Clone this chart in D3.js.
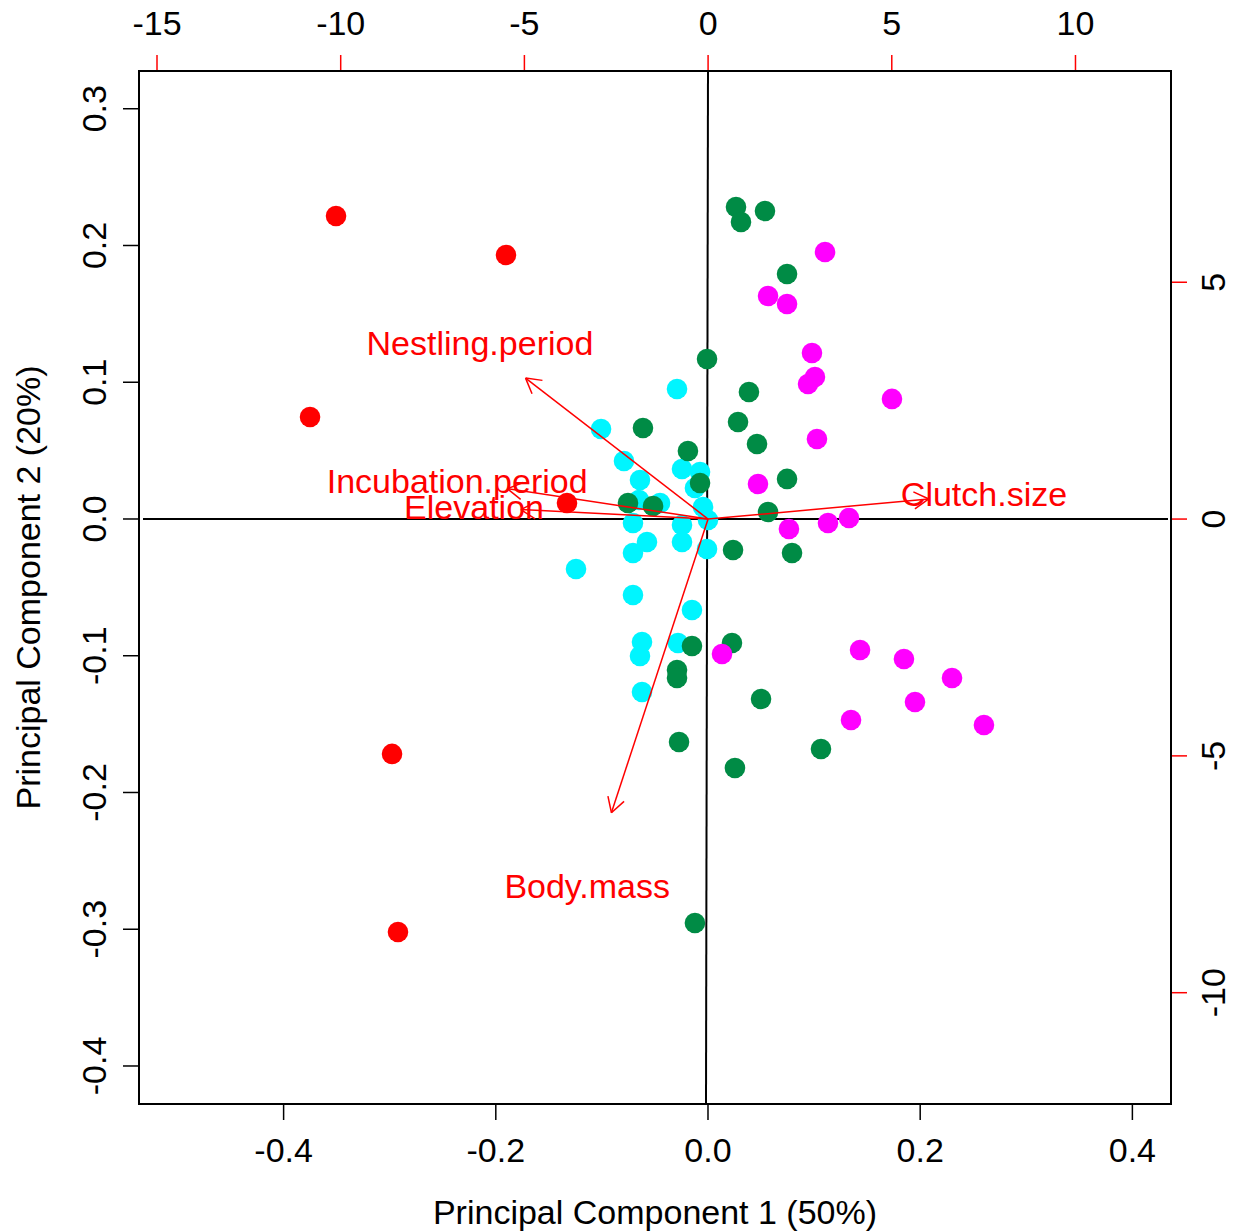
<!DOCTYPE html>
<html><head><meta charset="utf-8">
<script src="https://cdn.jsdelivr.net/npm/d3@7"></script>
<style>body{margin:0;background:#fff}svg{display:block}text{font-family:"Liberation Sans",Arial,Helvetica,sans-serif}</style>
</head><body><svg id="c" width="1236" height="1232"></svg>
<script>
// PC scores by group [PC1, PC2]
const redPts = [[-0.3506,0.2216],[-0.1904,0.1931],[-0.3751,0.0746],[-0.1329,0.0117],[-0.2978,-0.1718],[-0.2922,-0.3020]];
const cyanPts = [[-0.0292,0.0951],[-0.1008,0.0658],[-0.0792,0.0424],[-0.0641,0.0285],[-0.0245,0.0366],[-0.0075,0.0344],[-0.0123,0.0227],[-0.0650,0.0139],[-0.0452,0.0117],[-0.0047,0.0088],[-0.0707,-0.0029],[0.0000,-0.0007],[-0.0245,-0.0044],[-0.0575,-0.0168],[-0.0245,-0.0168],[-0.0707,-0.0249],[-0.0009,-0.0219],[-0.1244,-0.0366],[-0.0707,-0.0556],[-0.0151,-0.0665],[-0.0622,-0.0899],[-0.0283,-0.0907],[-0.0641,-0.1002],[-0.0622,-0.1265]];
const greenPts = [[0.0264,0.2282],[0.0537,0.2252],[0.0311,0.2172],[0.0745,0.1792],[-0.0009,0.1170],[0.0386,0.0929],[0.0283,0.0709],[0.0462,0.0548],[-0.0613,0.0665],[-0.0189,0.0497],[-0.0075,0.0263],[-0.0754,0.0117],[-0.0518,0.0095],[0.0745,0.0293],[0.0566,0.0051],[0.0236,-0.0227],[0.0792,-0.0249],[-0.0151,-0.0929],[0.0226,-0.0907],[-0.0292,-0.1104],[-0.0292,-0.1163],[0.0500,-0.1316],[-0.0273,-0.1631],[0.1065,-0.1682],[0.0254,-0.1821],[-0.0123,-0.2954]];
const magentaPts = [[0.1103,0.1952],[0.0566,0.1631],[0.0745,0.1572],[0.0980,0.1214],[0.1008,0.1038],[0.0943,0.0987],[0.1734,0.0878],[0.1027,0.0585],[0.0471,0.0256],[0.0763,-0.0073],[0.1131,-0.0029],[0.1329,0.0007],[0.0132,-0.0987],[0.1433,-0.0958],[0.1847,-0.1024],[0.2300,-0.1163],[0.1951,-0.1338],[0.1348,-0.1470],[0.2601,-0.1506]];
// variable loadings (label positions, top/right axis units)
const varNames = ["Nestling.period","Incubation.period","Elevation","Clutch.size","Body.mass"];
const varX = [-6.21,-6.83,-6.37,7.51,-3.29];
const varY = [3.72,0.80,0.25,0.53,-7.75];
// ticks
const bottomTicks = [-0.4,-0.2,0.0,0.2,0.4];
const leftTicks = [0.3,0.2,0.1,0.0,-0.1,-0.2,-0.3,-0.4];
const topTicks = [-15,-10,-5,0,5,10];
const rightTicks = [5,0,-5,-10];

const svg = d3.select("#c");
const L=139,R=1171,T=71,B=1104;
const x = d3.scaleLinear().domain([-0.5363,0.4364]).range([L,R]);
const y = d3.scaleLinear().domain([-0.4278,0.3276]).range([B,T]);
const x2 = d3.scaleLinear().domain([-15.49,12.60]).range([L,R]);
const y2 = d3.scaleLinear().domain([-12.35,9.46]).range([B,T]);
const FS = 34;
const fmt1 = d => d3.format(".1f")(d).replace("\u2212","-");
const fmt0 = d => String(d).replace("\u2212","-");

// center lines
svg.append("line").attr("x1",L+4).attr("x2",R-3).attr("y1",y(0)).attr("y2",y(0)).attr("stroke","#000").attr("stroke-width",2);
svg.append("line").attr("x1",x(0)).attr("x2",x(0)-2).attr("y1",T).attr("y2",B).attr("stroke","#000").attr("stroke-width",2);

// points
const groups = [[redPts,"#FF0000"],[cyanPts,"#00F5FF"],[greenPts,"#008B45"],[magentaPts,"#FF00FF"]];
groups.forEach(([pts,col])=>{
  svg.append("g").selectAll("circle").data(pts).join("circle")
    .attr("cx",d=>x(d[0])).attr("cy",d=>y(d[1])).attr("r",10.3).attr("fill",col);
});

// arrows
const ag = svg.append("g");
varNames.forEach((n,i)=>{
  const x0=x2(0),y0=y2(0);
  const tx=x2(varX[i]*0.8), ty=y2(varY[i]*0.8);
  ag.append("line").attr("x1",x0).attr("y1",y0).attr("x2",tx).attr("y2",ty).attr("stroke","#FF0000").attr("stroke-width",1.5);
  const ang=Math.atan2(ty-y0,tx-x0), len=17, a=Math.PI/6;
  [ang+Math.PI-a, ang+Math.PI+a].forEach(t=>{
    ag.append("line").attr("x1",tx).attr("y1",ty).attr("x2",tx+len*Math.cos(t)).attr("y2",ty+len*Math.sin(t)).attr("stroke","#FF0000").attr("stroke-width",1.5);
  });
  ag.append("text").attr("x",x2(varX[i])).attr("y",y2(varY[i])).attr("dy","0.36em").attr("text-anchor","middle")
    .attr("font-size",FS).attr("fill","#FF0000").text(n);
});

// top axis (red ticks)
svg.append("line").attr("x1",x2(topTicks[0])).attr("x2",x2(topTicks[topTicks.length-1])).attr("y1",T).attr("y2",T).attr("stroke","#FF0000").attr("stroke-width",2);
svg.append("g").selectAll("line").data(topTicks).join("line").attr("x1",d=>x2(d)).attr("x2",d=>x2(d)).attr("y1",T).attr("y2",T-16).attr("stroke","#FF0000").attr("stroke-width",1.5);
svg.append("g").selectAll("text").data(topTicks).join("text").attr("x",d=>x2(d)).attr("y",23).attr("dy","0.36em").attr("text-anchor","middle").attr("font-size",FS).attr("fill","#000").text(fmt0);
// right axis
svg.append("line").attr("x1",R).attr("x2",R).attr("y1",y2(rightTicks[0])).attr("y2",y2(rightTicks[rightTicks.length-1])).attr("stroke","#FF0000").attr("stroke-width",2);
svg.append("g").selectAll("line").data(rightTicks).join("line").attr("y1",d=>y2(d)).attr("y2",d=>y2(d)).attr("x1",R).attr("x2",R+16).attr("stroke","#FF0000").attr("stroke-width",1.5);
svg.append("g").selectAll("text").data(rightTicks).join("text").attr("transform",d=>`translate(1213,${y2(d)}) rotate(-90)`).attr("dy","0.36em").attr("text-anchor","middle").attr("font-size",FS).attr("fill","#000").text(fmt0);

// box
svg.append("rect").attr("x",L).attr("y",T).attr("width",R-L).attr("height",B-T).attr("fill","none").attr("stroke","#000").attr("stroke-width",2);

// bottom axis
svg.append("g").selectAll("line").data(bottomTicks).join("line").attr("x1",d=>x(d)).attr("x2",d=>x(d)).attr("y1",B).attr("y2",B+16).attr("stroke","#000").attr("stroke-width",1.5);
svg.append("g").selectAll("text").data(bottomTicks).join("text").attr("x",d=>x(d)).attr("y",1150).attr("dy","0.36em").attr("text-anchor","middle").attr("font-size",FS).attr("fill","#000").text(fmt1);
// left axis
svg.append("g").selectAll("line").data(leftTicks).join("line").attr("y1",d=>y(d)).attr("y2",d=>y(d)).attr("x1",L).attr("x2",L-16).attr("stroke","#000").attr("stroke-width",1.5);
svg.append("g").selectAll("text").data(leftTicks).join("text").attr("transform",d=>`translate(94,${y(d)}) rotate(-90)`).attr("dy","0.36em").attr("text-anchor","middle").attr("font-size",FS).attr("fill","#000").text(fmt1);

// titles
svg.append("text").attr("x",(L+R)/2).attr("y",1212).attr("dy","0.36em").attr("text-anchor","middle").attr("font-size",FS).text("Principal Component 1 (50%)");
svg.append("text").attr("transform",`translate(28,${(T+B)/2}) rotate(-90)`).attr("dy","0.36em").attr("text-anchor","middle").attr("font-size",FS).text("Principal Component 2 (20%)");
</script></body></html>
